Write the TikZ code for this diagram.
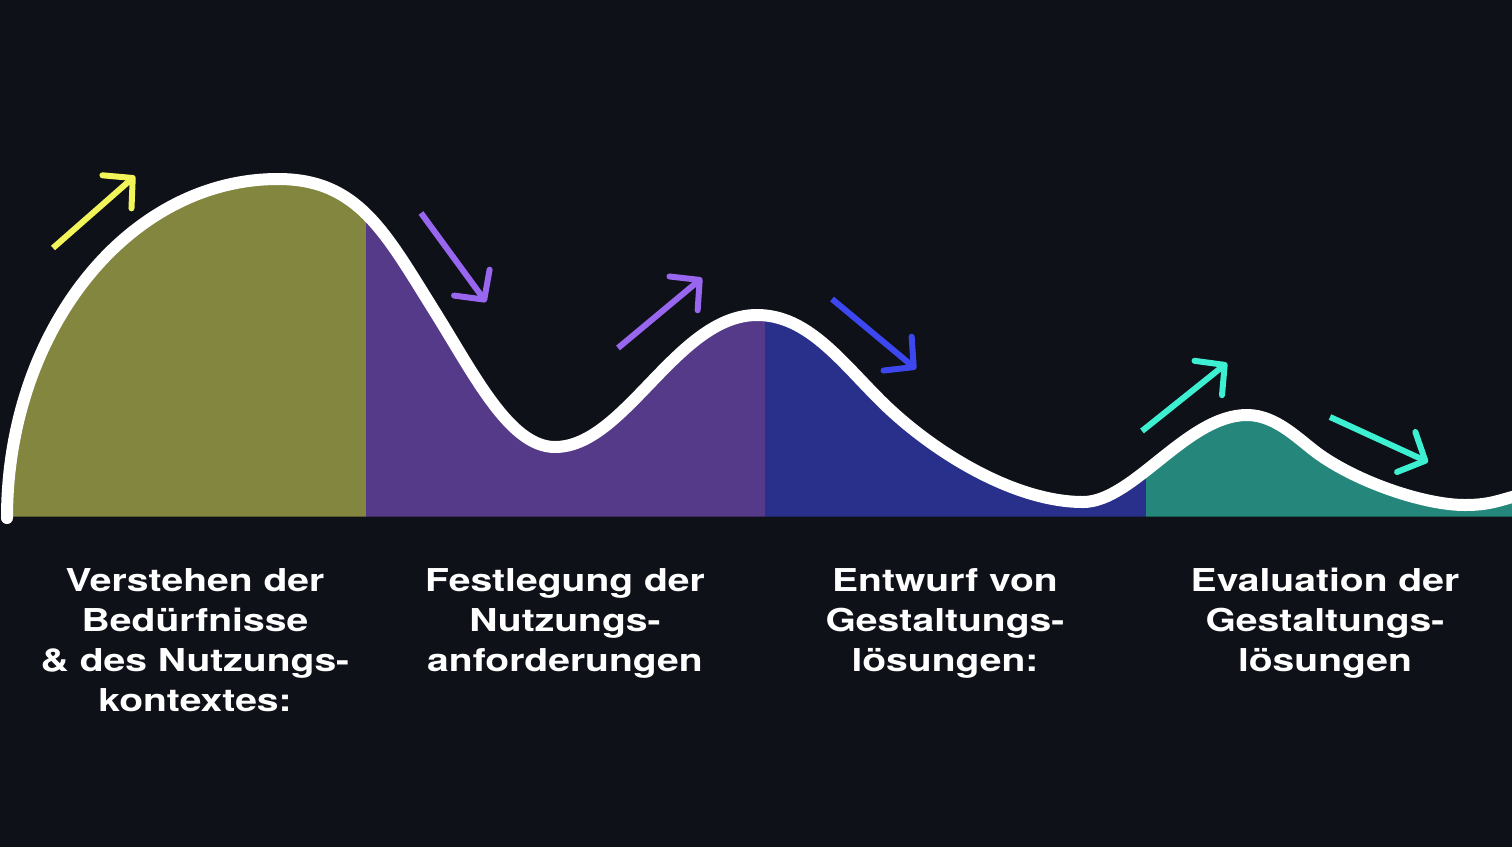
\documentclass[tikz,border=0pt]{standalone}
\usepackage{fontspec}
\newfontfamily\labelfont{TeX Gyre Heros}[FakeStretch=1.24]
\usetikzlibrary{arrows.meta}
\definecolor{bgc}{HTML}{0E1118}
\definecolor{olivef}{HTML}{83863F}
\definecolor{purplef}{HTML}{553A8A}
\definecolor{bluef}{HTML}{28308C}
\definecolor{tealf}{HTML}{25877B}
\definecolor{yellowa}{HTML}{F2F55A}
\definecolor{purplea}{HTML}{9966F0}
\definecolor{bluea}{HTML}{3D47F0}
\definecolor{teala}{HTML}{3DF0D2}
\begin{document}
\begin{tikzpicture}[x=1pt,y=-1pt,
  arr/.style={line width=6pt, -{Straight Barb[length=21pt,width=44pt,round]}},
  lab/.style={text=white, font=\labelfont\bfseries\fontsize{31.5}{40}\selectfont, align=center, anchor=north, inner sep=0pt}]
\useasboundingbox (0,0) rectangle (1512,847);
\fill[bgc] (0,0) rectangle (1512,847);
\def\wave{(7,518) .. controls (7,331) and (128,179) .. (278,179) .. controls (358,179) and (385,232) .. (435,312) .. controls (475,376) and (510,447) .. (555,447) .. controls (625,447) and (677,315) .. (757,315) .. controls (807,315) and (840,360) .. (880,400) .. controls (930,450) and (1013,502) .. (1083,502) .. controls (1133,502) and (1187,415) .. (1247,415) .. controls (1277,415) and (1300,441) .. (1320,455) .. controls (1360,483) and (1425,505) .. (1465,505) .. controls (1490,505) and (1500,500) .. (1516,496)}
\begin{scope}
  \clip (0,0) rectangle (366,516.5);
  \fill[olivef] \wave -- (1516,516.5) -- (7,516.5) -- cycle;
\end{scope}
\begin{scope}
  \clip (366,0) rectangle (765,516.5);
  \fill[purplef] \wave -- (1516,516.5) -- (7,516.5) -- cycle;
\end{scope}
\begin{scope}
  \clip (765,0) rectangle (1146,516.5);
  \fill[bluef] \wave -- (1516,516.5) -- (7,516.5) -- cycle;
\end{scope}
\begin{scope}
  \clip (1146,0) rectangle (1512,516.5);
  \fill[tealf] \wave -- (1516,516.5) -- (7,516.5) -- cycle;
\end{scope}
\draw[white, line width=12pt, line cap=round] \wave;
% arrows
\coordinate (a1s) at (53,248);   \coordinate (a1e) at (135,176);
\coordinate (a2s) at (421,213);  \coordinate (a2e) at (486,302);
\coordinate (a3s) at (618,348);  \coordinate (a3e) at (702,278);
\coordinate (a4s) at (832,299);  \coordinate (a4e) at (916,369);
\coordinate (a5s) at (1142,431); \coordinate (a5e) at (1227,363);
\coordinate (a6s) at (1330,417); \coordinate (a6e) at (1428,462);
\draw[arr, yellowa] (a1s) -- (a1e);
\draw[arr, purplea] (a2s) -- (a2e);
\draw[arr, purplea] (a3s) -- (a3e);
\draw[arr, bluea] (a4s) -- (a4e);
\draw[arr, teala] (a5s) -- (a5e);
\draw[arr, teala] (a6s) -- (a6e);
% labels
\node[lab] (t1) at (195,568) {Verstehen der\\Bedürfnisse\\\& des Nutzungs-\\kontextes:};
\node[lab] (t2) at (565,568) {Festlegung der\\Nutzungs-\\anforderungen};
\node[lab] (t3) at (945,568) {Entwurf von\\Gestaltungs-\\lösungen:};
\node[lab] (t4) at (1325,568) {Evaluation der\\Gestaltungs-\\lösungen};
\end{tikzpicture}
\end{document}
